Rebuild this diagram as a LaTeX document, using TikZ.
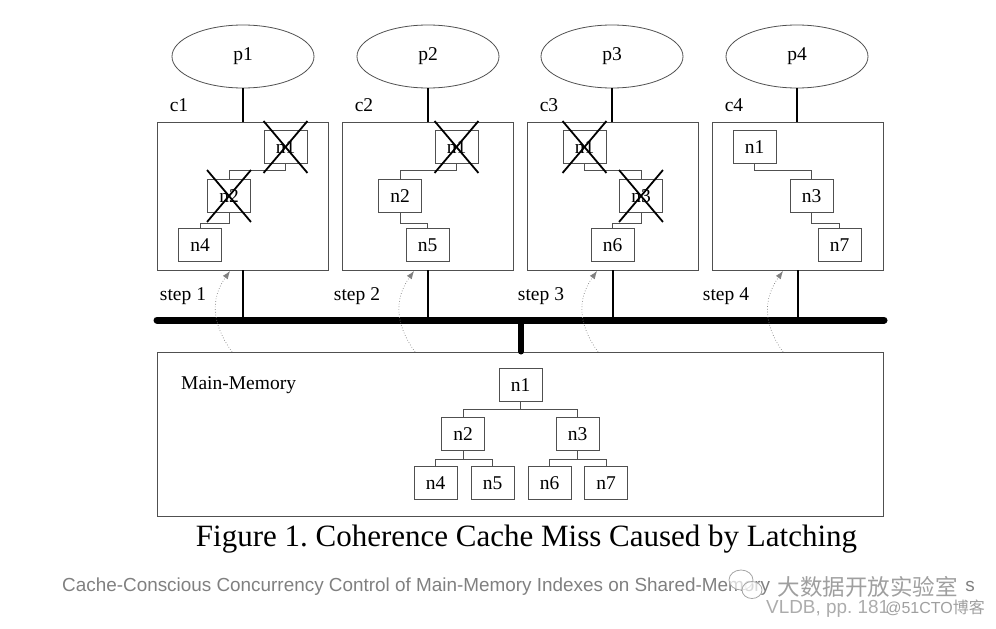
\documentclass[tikz,border=0pt]{standalone}
\usepackage{fontspec}
\setmainfont{Liberation Serif}
\newfontfamily\sansf{Liberation Sans}
\newfontfamily\cjk{Noto Sans CJK SC}
\usetikzlibrary{shapes.geometric,arrows.meta,calc}
\definecolor{boxgray}{HTML}{505050}
\definecolor{cite}{HTML}{808080}
\tikzset{
  proc/.style={ellipse,draw=boxgray,line width=0.8pt,minimum width=142pt,minimum height=63pt,inner sep=0pt,font=\fontsize{19.5}{19.5}\selectfont},
  cache/.style={draw=boxgray,line width=0.9pt,minimum width=171pt,minimum height=148pt,inner sep=0pt},
  nd/.style={draw=boxgray,line width=0.9pt,minimum width=43pt,minimum height=33pt,inner sep=0pt,text height=13pt,text depth=0pt,font=\fontsize{19.5}{19.5}\selectfont},
  lbl/.style={inner sep=0pt,font=\fontsize{19.5}{19.5}\selectfont},
  conn/.style={draw=boxgray,line width=0.7pt},
  vline/.style={draw=black,line width=2pt},
  xline/.style={draw=black,line width=1.8pt},
  bus/.style={draw=black,line width=7pt,line cap=round},
  dotarrow/.style={draw=gray,dotted,line width=0.7pt,-{Latex[length=8pt,width=6pt]}},
  citetext/.style={inner sep=0pt,text=cite,font=\sansf\fontsize{18.9}{18.9}\selectfont},
  wmark/.style={inner sep=0pt,text=gray!75},
}
\newcommand{\xout}[1]{\draw[xline] ([yshift=9pt]#1.north west) -- ([yshift=-9pt]#1.south east);
  \draw[xline] ([yshift=9pt]#1.north east) -- ([yshift=-9pt]#1.south west);}
\begin{document}
\frenchspacing
\begin{tikzpicture}[x=1pt,y=-1pt]
\useasboundingbox (0,0) rectangle (996,629);
% processors
\node[proc] (p1) at (243,56.5) {p1};
\node[proc] (p2) at (428,56.5) {p2};
\node[proc] (p3) at (612,56.5) {p3};
\node[proc] (p4) at (797,56.5) {p4};
% caches
\node[cache] (c1) at (242.5,196) {};
\node[cache] (c2) at (427.5,196) {};
\node[cache] (c3) at (612.5,196) {};
\node[cache] (c4) at (797.5,196) {};
\node[lbl] (l1) at (179,105) {c1};
\node[lbl] (l2) at (364,105) {c2};
\node[lbl] (l3) at (549,105) {c3};
\node[lbl] (l4) at (734,105) {c4};
\foreach \i in {1,2,3,4}{\draw[vline] (p\i.south) -- (p\i.south |- c\i.north);}
% cache c1
\node[nd] (a1) at (285.5,147) {n1};
\node[nd] (a2) at (229,196) {n2};
\node[nd] (a4) at (200,245) {n4};
\draw[conn] (a1.south) -- ++(0,6) -| (a2.north);
\draw[conn] (a2.south) -- ++(0,10) -| (a4.north);
\xout{a1}\xout{a2}
% cache c2
\node[nd] (b1) at (456.5,147) {n1};
\node[nd] (b2) at (400,196) {n2};
\node[nd] (b5) at (427.5,245) {n5};
\draw[conn] (b1.south) -- ++(0,6) -| (b2.north);
\draw[conn] (b2.south) -- ++(0,10) -| (b5.north);
\xout{b1}
% cache c3
\node[nd] (d1) at (584.5,147) {n1};
\node[nd] (d3) at (641,196) {n3};
\node[nd] (d6) at (612.5,245) {n6};
\draw[conn] (d1.south) -- ++(0,6) -| (d3.north);
\draw[conn] (d3.south) -- ++(0,10) -| (d6.north);
\xout{d1}\xout{d3}
% cache c4
\node[nd] (e1) at (754.5,147) {n1};
\node[nd] (e3) at (811.5,196) {n3};
\node[nd] (e7) at (839.5,245) {n7};
\draw[conn] (e1.south) -- ++(0,6) -| (e3.north);
\draw[conn] (e3.south) -- ++(0,10) -| (e7.north);
% bus
\coordinate (busL) at (157,320);
\coordinate (busR) at (884,320);
\foreach \i in {1,2,3,4}{\draw[vline] (c\i.south) -- (c\i.south |- busL);}
\draw[bus] (busL) -- (busR);
% main memory
\node[draw=boxgray,line width=1pt,minimum width=726pt,minimum height=164pt,inner sep=0pt] (mem) at (520,434) {};
\coordinate (bm) at (521,320);
\draw[black,line width=6pt,line cap=round] (bm) -- (bm |- mem.north);
\node[lbl,anchor=west] (mml) at (181,385) {Main-Memory};
\node[nd] (m1) at (520.5,384.5) {n1};
\node[nd] (m2) at (463,433.5) {n2};
\node[nd] (m3) at (577.5,433.5) {n3};
\node[nd] (m4) at (435.5,483) {n4};
\node[nd] (m5) at (492.5,483) {n5};
\node[nd] (m6) at (549.5,483) {n6};
\node[nd] (m7) at (606,483) {n7};
\draw[conn] (m1.south) -- ++(0,8) -| (m2.north);
\draw[conn] (m1.south) -- ++(0,8) -| (m3.north);
\draw[conn] (m2.south) -- ++(0,9) -| (m4.north);
\draw[conn] (m2.south) -- ++(0,9) -| (m5.north);
\draw[conn] (m3.south) -- ++(0,9) -| (m6.north);
\draw[conn] (m3.south) -- ++(0,9) -| (m7.north);
% steps
\node[lbl] (s1) at (183,296) {step 1};
\node[lbl] (s2) at (357,296) {step 2};
\node[lbl] (s3) at (541,296) {step 3};
\node[lbl] (s4) at (726,296) {step 4};
\coordinate (f1) at (232,352); \coordinate (t1) at (230,271);
\coordinate (f2) at (415,352); \coordinate (t2) at (414,271);
\coordinate (f3) at (598,352); \coordinate (t3) at (597,271);
\coordinate (f4) at (783,352); \coordinate (t4) at (783,271);
\foreach \i in {1,2,3,4}{\draw[dotarrow] (f\i) .. controls ($(f\i)+(-20,-28)$) and ($(t\i)+(-20,28)$) .. (t\i);}
% caption
\node[inner sep=0pt] (cap) at (526.5,539) {\fontsize{31}{31}\selectfont Figure 1. Coherence Cache Miss Caused by Latching};
% citation (partly hidden by a watermark in the reference)
\node[citetext,anchor=west] (ct1) at (62,587) {Cache-Conscious Concurrency Control of Main-Memory Indexes on Shared-Memory};
\node[citetext,anchor=east] (ct1b) at (975,587) {s};
\node[citetext,anchor=west,text=cite!65] (ct2) at (766,609) {VLDB, pp. 181};
% watermark
\node[ellipse,draw=gray!70,line width=0.8pt,fill=white,fill opacity=0.7,minimum width=24pt,minimum height=20pt,inner sep=0pt] (wmi1) at (741,580) {};
\node[ellipse,draw=gray!70,line width=0.8pt,fill=white,fill opacity=0.7,minimum width=20pt,minimum height=17pt,inner sep=0pt] (wmi2) at (752,590) {};
\node[wmark] (wm1) at (867.5,587) {\cjk\fontsize{22.5}{22.5}\selectfont 大数据开放实验室};
\node[wmark,anchor=east] (wm2) at (985,608) {\sansf\fontsize{16}{16}\selectfont @51CTO\cjk 博客};
\end{tikzpicture}
\end{document}
